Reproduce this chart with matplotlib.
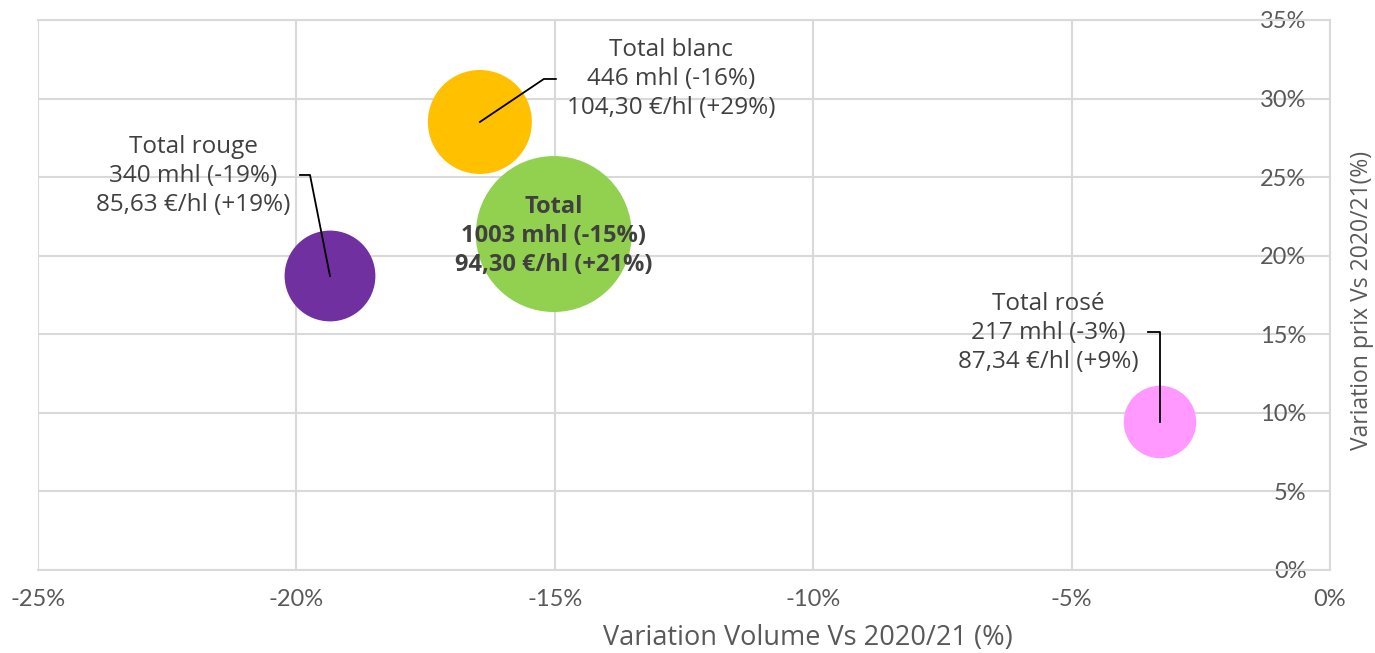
import matplotlib
matplotlib.use("Agg")
import matplotlib.pyplot as plt
import matplotlib.transforms as mtransforms
from matplotlib.ticker import FuncFormatter, MultipleLocator

plt.rcParams['axes.unicode_minus'] = False

# ---- data ----
names = ["Total rouge", "Total blanc", "Total", "Total rosé"]
vol_var = [-19.35, -16.45, -15.02, -3.29]      # % variation volume
price_var = [18.71, 28.51, 21.38, 9.42]        # % variation prix
volumes = [340, 446, 1003, 217]                # mhl
labels = [
    "Total rouge\n340 mhl (-19%)\n85,63 €/hl (+19%)",
    "Total blanc\n446 mhl (-16%)\n104,30 €/hl (+29%)",
    "Total\n1003 mhl (-15%)\n94,30 €/hl (+21%)",
    "Total rosé\n217 mhl (-3%)\n87,34 €/hl (+9%)",
]
colors = ["#7030A0", "#FFC000", "#92D050", "#FF99FF"]

W, H = 1375, 653
fig = plt.figure(figsize=(W / 100, H / 100), dpi=100)
L, R, T, B = 38, 1330, 20, 570
ax = fig.add_axes([L / W, (H - B) / H, (R - L) / W, (B - T) / H])

xmin, xmax, ymin, ymax = -25, 0, 0, 35
ax.set_xlim(xmin, xmax)
ax.set_ylim(ymin, ymax)
pxx = (R - L) / (xmax - xmin)
pxy = (B - T) / (ymax - ymin)

grid_c = "#D9D9D9"
ax.xaxis.set_major_locator(MultipleLocator(5))
ax.yaxis.set_major_locator(MultipleLocator(5))
ax.grid(True, color=grid_c, linewidth=1.5, zorder=0)
ax.set_axisbelow(True)
ax.spines["left"].set_visible(False)
for s in ["right", "bottom", "top"]:
    ax.spines[s].set_color(grid_c)
    ax.spines[s].set_linewidth(1.5)

fmt = FuncFormatter(lambda v, p: f"{int(round(v))}%")
ax.xaxis.set_major_formatter(fmt)
ax.yaxis.set_major_formatter(fmt)
tick_font = "Lato"
ax.tick_params(axis="x", length=0, pad=14, labelsize=17, labelcolor="#595959")
ax.tick_params(axis="y", length=0, pad=17, labelsize=17, labelcolor="#595959")
for lab in ax.get_xticklabels() + ax.get_yticklabels():
    lab.set_fontfamily(tick_font)
# y labels sit just left of the right border (vertical axis crosses at x=0)
offset = mtransforms.ScaledTranslation((R - L) / 100, 0, fig.dpi_scale_trans)
for lab in ax.get_yticklabels():
    lab.set_transform(lab.get_transform() + offset)

# bubbles (area proportional to volume)
k = 12.57
sizes = [v * k for v in volumes]
ax.scatter(vol_var, price_var, s=sizes, c=colors, edgecolors="none", zorder=3)

txt_c = "#404040"
ann_font = "Open Sans"
# offsets in pixels (dx, dy up): text centre, elbow, end
text_off = [(-137, 100), (191, 43), (0, -2), (-112, 89)]
lead = [[(-20, 101), (-30, 101)], [(64, 43), (76, 43)], None, [(0, 90), (-12, 90)]]
for i in range(4):
    x0, y0 = vol_var[i], price_var[i]
    tx = x0 + text_off[i][0] / pxx
    ty = y0 + text_off[i][1] / pxy
    bold = names[i] == "Total"
    ax.text(tx, ty, labels[i], ha="center", va="center",
            fontsize=17 if bold else 17.5,
            color=txt_c, family=ann_font, linespacing=1.27,
            fontweight="bold" if bold else "normal", zorder=5)
    if lead[i] is not None:
        xs = [x0] + [x0 + d[0] / pxx for d in lead[i]]
        ys = [y0] + [y0 + d[1] / pxy for d in lead[i]]
        ax.plot(xs, ys, color="black", linewidth=1.3, zorder=4)

fig.text(808 / W, (H - 638) / H, "Variation Volume Vs 2020/21 (%)", ha="center",
         va="center", fontsize=19.5, color="#595959", family=ann_font)
fig.text(1362 / W, (H - 300) / H, "Variation prix Vs 2020/21(%)", ha="center",
         va="center", rotation=90, fontsize=16.5, color="#595959", family=ann_font)

fig.savefig("out.png", dpi=100)
